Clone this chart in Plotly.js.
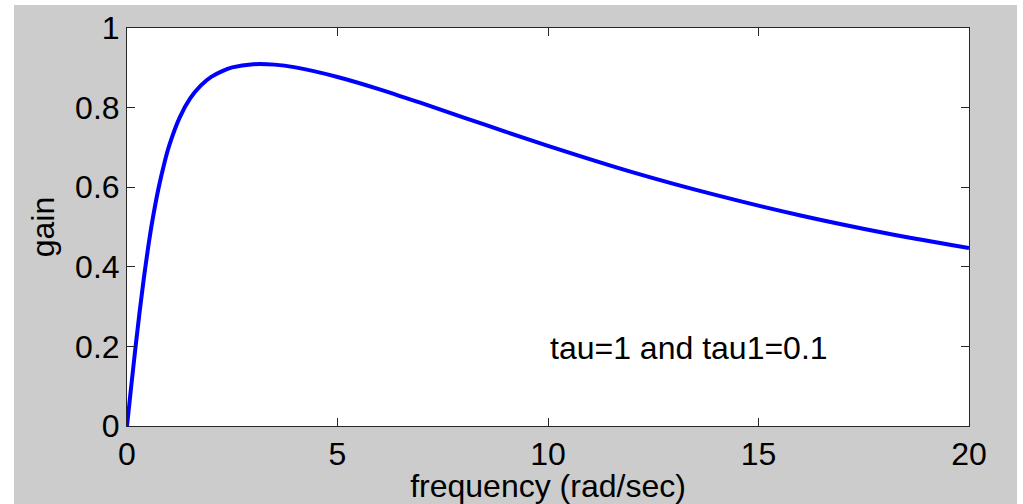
<!DOCTYPE html>
<html>
<head>
<meta charset="utf-8">
<script src="https://cdn.plot.ly/plotly-3.0.1.min.js"></script>
<style>
html,body{margin:0;padding:0;background:#ffffff;width:1023px;height:504px;overflow:hidden;}
#chart{position:absolute;left:14px;top:5px;width:1003px;height:499px;}
</style>
</head>
<body>
<div id="chart"></div>
<script>
// frequency (rad/sec) values
const freq = [0, 0.05, 0.1, 0.2, 0.3, 0.4, 0.5, 0.6, 0.75, 0.9, 1, 1.25, 1.5, 1.75, 2, 2.25, 2.5, 3, 3.5, 4, 5, 6, 7, 8, 9, 10, 12, 14, 16, 18, 20];
// gain values
const gain = [0, 0.05, 0.0995, 0.196, 0.287, 0.371, 0.447, 0.514, 0.598, 0.666, 0.704, 0.775, 0.823, 0.855, 0.877, 0.891, 0.901, 0.909, 0.908, 0.901, 0.877, 0.846, 0.811, 0.775, 0.739, 0.704, 0.638, 0.580, 0.529, 0.485, 0.447];
const xTicks = [0, 5, 10, 15, 20];
const yTicks = [0, 0.2, 0.4, 0.6, 0.8, 1];
const yTickText = ['0', '0.2', '0.4', '0.6', '0.8', '1'];
const labelText = 'tau=1 and tau1=0.1';

const font = {family: 'Liberation Sans, Arial, sans-serif', size: 32, color: '#000000'};

const trace = {
  x: freq, y: gain, type: 'scatter', mode: 'lines',
  line: {color: '#0000ff', width: 4, shape: 'spline', smoothing: 0.6},
  hoverinfo: 'skip'
};

const axisCommon = {
  showgrid: false, zeroline: false, showline: true, linecolor: '#262626', linewidth: 1,
  mirror: 'ticks', ticks: 'inside', ticklen: 8, tickcolor: '#262626', tickwidth: 1,
  tickfont: font
};

const layout = {
  width: 1003, height: 499,
  paper_bgcolor: '#cccccc', plot_bgcolor: '#ffffff',
  margin: {l: 113, r: 48, t: 23, b: 78},
  showlegend: false,
  font: font,
  xaxis: Object.assign({}, axisCommon, {
    range: [0, 20], tickvals: xTicks, ticktext: xTicks.map(String),
    title: {text: 'frequency (rad/sec)', font: font, standoff: 0}
  }),
  yaxis: Object.assign({}, axisCommon, {
    range: [0, 1], tickvals: yTicks, ticktext: yTickText,
    title: {text: 'gain', font: font, standoff: 10}
  }),
  annotations: [{
    x: 10, y: 0.195, xref: 'x', yref: 'y', text: labelText, showarrow: false,
    xanchor: 'left', yanchor: 'middle', font: font
  }]
};

Plotly.newPlot('chart', [trace], layout, {staticPlot: true, displayModeBar: false});
</script>
</body>
</html>
